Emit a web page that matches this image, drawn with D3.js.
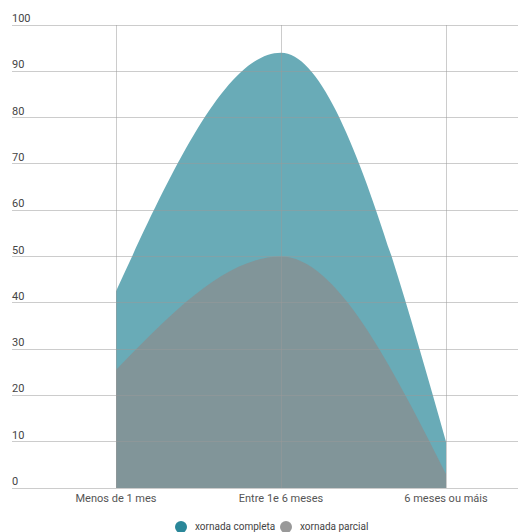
<!DOCTYPE html>
<html><head><meta charset="utf-8">
<script src="https://cdn.jsdelivr.net/npm/d3@7"></script>
<style>body{margin:0;background:#fff;}svg{display:block;font-family:Roboto,"Noto Sans",sans-serif;}</style>
</head><body>
<svg id="c" width="518" height="532"></svg>
<script>
const categories = ["Menos de 1 mes", "Entre 1e 6 meses", "6 meses ou máis"];
const seriesNames = ["xornada completa", "xornada parcial"];
const completa = [42.5, 94, 10];
const parcial = [25.5, 50, 3];
const yTicks = [0,10,20,30,40,50,60,70,80,90,100];
const colors = ["#2a8799", "#8c8c8c"];

const svg = d3.select("#c");
const x = d3.scalePoint().domain(categories).range([116, 446]);
const y = d3.scaleLinear().domain([0,100]).range([488, 25]);

const series = [completa, parcial];
const area = d3.area()
  .x((d,i)=>x(categories[i]))
  .y0(y(0))
  .y1(d=>y(d))
  .curve(d3.curveMonotoneX);

series.forEach((s,k)=>{
  svg.append("path").datum(s).attr("d", area)
    .attr("fill", colors[k]).attr("fill-opacity", 0.7);
});

// grid
const g = svg.append("g");
yTicks.forEach(t=>{
  g.append("line").attr("x1",12).attr("x2",518).attr("y1",y(t)).attr("y2",y(t))
    .attr("stroke","#999").attr("stroke-opacity",0.5).attr("stroke-width",1).attr("shape-rendering","crispEdges");
  g.append("text").attr("x",12).attr("y",y(t)-3).text(t)
    .attr("font-size",11).attr("fill","#444");
});
categories.forEach(c=>{
  g.append("line").attr("x1",x(c)).attr("x2",x(c)).attr("y1",y(100)).attr("y2",y(0))
    .attr("stroke","#999").attr("stroke-opacity",0.5).attr("shape-rendering","crispEdges");
  g.append("text").attr("x",x(c)).attr("y",502).attr("text-anchor","middle").text(c)
    .attr("font-size",11).attr("fill","#555");
});

// legend
const leg = [{x:181},{x:286}];
seriesNames.forEach((n,k)=>{
  svg.append("circle").attr("cx",leg[k].x).attr("cy",527).attr("r",6).attr("fill",k==0?colors[0]:"#999");
  svg.append("text").attr("x",leg[k].x+14).attr("y",530).text(n).attr("font-size",10).attr("fill","#444");
});
</script>
</body></html>
